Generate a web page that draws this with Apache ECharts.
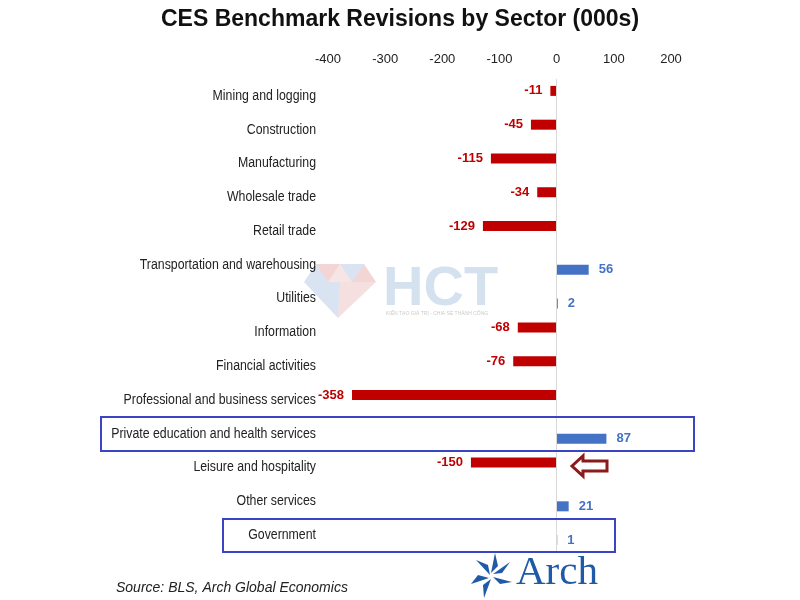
<!DOCTYPE html>
<html><head><meta charset="utf-8">
<script src="https://cdn.jsdelivr.net/npm/echarts@6/dist/echarts.min.js"></script>
<style>html,body{margin:0;padding:0;background:#fff}#c{width:800px;height:600px}</style>
</head><body><div id="c"></div>
<script>
var categories = ["Mining and logging","Construction","Manufacturing","Wholesale trade","Retail trade","Transportation and warehousing","Utilities","Information","Financial activities","Professional and business services","Private education and health services","Leisure and hospitality","Other services","Government"];
var revisions = [-11,-45,-115,-34,-129,56,2,-68,-76,-358,87,-150,21,1];
var tickMin = -400, tickMax = 200, tickStep = 100;

var RED = '#C00000', BLUE = '#4472C4';
var FONT = '"Liberation Sans",Arial,sans-serif';

var negData = revisions.map(function(v){ return v < 0 ? v : null; });
var posData = revisions.map(function(v){ return v >= 0 ? v : null; });

var chart = echarts.init(document.getElementById('c'));
chart.setOption({
  animation:false,
  backgroundColor:'#fff',
  title:{text:'CES Benchmark Revisions by Sector (000s)', left:'center', top:3,
    textStyle:{fontFamily:FONT, fontWeight:'bold', fontSize:23, color:'#111'}},
  grid:{left:328, width:343, top:79, height:473, containLabel:false},
  xAxis:{type:'value', position:'top', min:tickMin, max:tickMax, interval:tickStep,
    axisLine:{show:false}, axisTick:{show:false}, splitLine:{show:false},
    axisLabel:{fontFamily:FONT, fontSize:13, color:'#222', margin:13}},
  yAxis:{type:'category', data:categories, inverse:true,
    axisLine:{show:false}, axisTick:{show:false}, axisLabel:{show:false}},
  series:[
    {type:'bar', name:'neg', data:negData, barWidth:10, barGap:'0%',
      itemStyle:{color:RED},
      label:{show:true, position:'left', distance:8, color:RED, fontFamily:FONT, fontWeight:'bold', fontSize:13},
      markLine:{silent:true, symbol:'none', label:{show:false},
        lineStyle:{color:'#d9d9d9', width:1, type:'solid'}, data:[{xAxis:0}]}},
    {type:'bar', name:'pos', data:posData, barWidth:10, barGap:'0%',
      itemStyle:{color:BLUE},
      label:{show:true, position:'right', distance:10, color:BLUE, fontFamily:FONT, fontWeight:'bold', fontSize:13}}
  ]
});

var graphics = [
  {type:'rect', shape:{x:101, y:417, width:593, height:34}, style:{fill:'none', stroke:'#3b45c4', lineWidth:2}, z:100},
  {type:'rect', shape:{x:223, y:519, width:392, height:33}, style:{fill:'none', stroke:'#3b45c4', lineWidth:2}, z:100},
  {type:'polygon', shape:{points:[[572,466],[583,456],[583,461],[607,461],[607,471],[583,471],[583,476]]},
    style:{fill:'#fff', stroke:'#8b1a1a', lineWidth:3, lineJoin:'miter'}, z:100},
  {type:'group', z:-1, silent:true, children:[
    {type:'polygon', shape:{points:[[316,264],[340,264],[328,282]]}, style:{fill:'rgba(225,150,150,0.4)'}},
    {type:'polygon', shape:{points:[[304,282],[316,264],[328,282]]}, style:{fill:'rgba(160,185,220,0.4)'}},
    {type:'polygon', shape:{points:[[340,264],[364,264],[352,282]]}, style:{fill:'rgba(160,185,220,0.4)'}},
    {type:'polygon', shape:{points:[[328,282],[340,264],[352,282]]}, style:{fill:'rgba(225,150,150,0.25)'}},
    {type:'polygon', shape:{points:[[352,282],[364,264],[376,282]]}, style:{fill:'rgba(225,150,150,0.4)'}},
    {type:'polygon', shape:{points:[[304,282],[340,282],[338,318]]}, style:{fill:'rgba(160,185,220,0.4)'}},
    {type:'polygon', shape:{points:[[340,282],[376,282],[338,318]]}, style:{fill:'rgba(225,150,150,0.3)'}},
    {type:'text', style:{x:383, y:262, text:'HCT', font:'bold 56px "Liberation Sans",Arial,sans-serif', fill:'rgba(160,188,220,0.45)'}},
    {type:'text', style:{x:386, y:311, text:'KIẾN TẠO GIÁ TRỊ - CHIA SẺ THÀNH CÔNG', font:'5px sans-serif', fill:'rgba(150,150,150,0.5)'}}
  ]},
  {type:'group', silent:true, children:[
    {type:'polygon', shape:{points:[[490,575],[476,560],[488,565]]}, style:{fill:'#1e5aa8'}},
    {type:'polygon', shape:{points:[[491,573],[495,553],[498,566]]}, style:{fill:'#1e5aa8'}},
    {type:'polygon', shape:{points:[[493,574],[510,562],[502,573]]}, style:{fill:'#1e5aa8'}},
    {type:'polygon', shape:{points:[[493,577],[512,582],[500,584]]}, style:{fill:'#1e5aa8'}},
    {type:'polygon', shape:{points:[[491,579],[484,598],[483,585]]}, style:{fill:'#1e5aa8'}},
    {type:'polygon', shape:{points:[[489,578],[471,584],[478,575]]}, style:{fill:'#1e5aa8'}},
    {type:'text', style:{x:516, y:553, text:'Arch', font:'41px "Liberation Serif","DejaVu Serif",serif', fill:'#1e5aa8'}}
  ]},
  {type:'text', style:{x:116, y:581, text:'Source: BLS, Arch Global Economics', font:'italic 14px '+FONT, fill:'#222'}}
];

categories.forEach(function(c){
  var py = chart.convertToPixel({yAxisIndex:0}, c);
  graphics.push({type:'text', x:316, y:py, scaleX:0.88, z:50,
    style:{x:0, y:0, text:c, align:'right', verticalAlign:'middle', font:'14px '+FONT, fill:'#222'}});
});

chart.setOption({graphic:graphics});
</script></body></html>
